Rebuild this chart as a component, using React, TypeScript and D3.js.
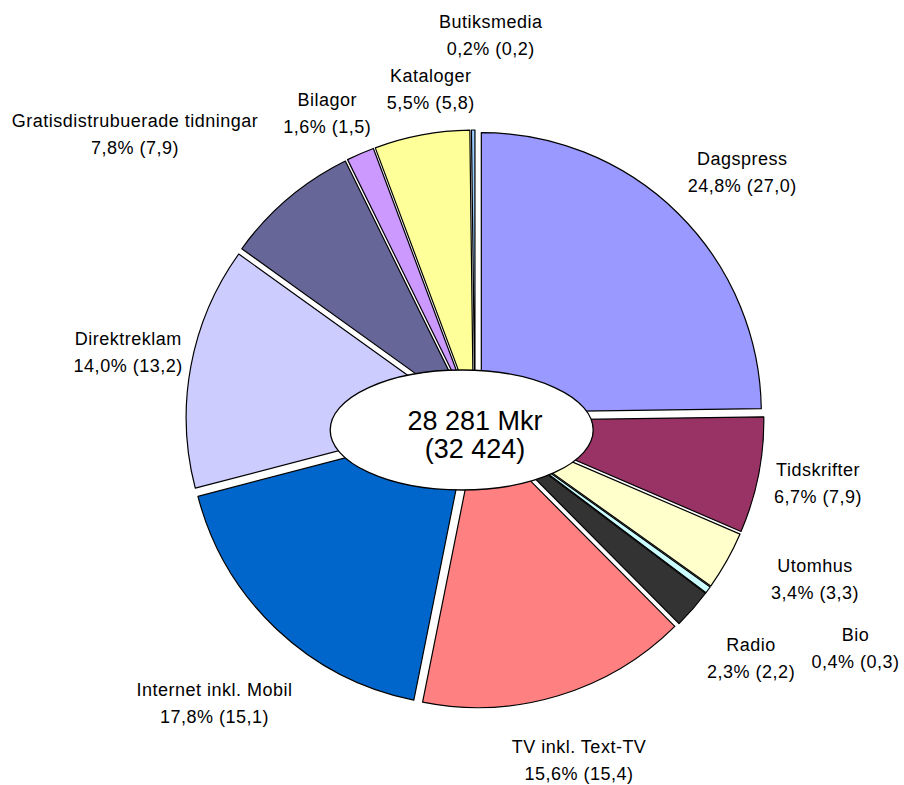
import React, { useEffect, useRef } from 'react'
import * as d3 from 'd3'

// chart data
const categories = [
  'Dagspress', 'Tidskrifter', 'Utomhus', 'Bio', 'Radio', 'TV inkl. Text-TV',
  'Internet inkl. Mobil', 'Direktreklam', 'Gratisdistrubuerade tidningar',
  'Bilagor', 'Kataloger', 'Butiksmedia',
]
const shares = [24.8, 6.7, 3.4, 0.4, 2.3, 15.6, 17.8, 14.0, 7.8, 1.6, 5.5, 0.2]
const shareLabels = ['24,8%', '6,7%', '3,4%', '0,4%', '2,3%', '15,6%', '17,8%', '14,0%', '7,8%', '1,6%', '5,5%', '0,2%']
const prevLabels = ['27,0', '7,9', '3,3', '0,3', '2,2', '15,4', '15,1', '13,2', '7,9', '1,5', '5,8', '0,2']
const totalText = ['28 281 Mkr', '(32 424)']

// styling / layout
const colors = ['#9999FF', '#993366', '#FFFFCC', '#CCFFFF', '#333333', '#FF8080',
  '#0066CC', '#CCCCFF', '#666699', '#CC99FF', '#FFFF99', '#99CCFF']
// label nudges from the default label ring, in px
const labelNudge = [[11, 13], [-15, -7], [22, -19], [86, 14], [1, 0], [-1, -8],
  [-10, 19], [12, 0], [-104, -6], [-3, 30], [23, 29], [18, -19]]

export default function App() {
  const ref = useRef<SVGSVGElement>(null)

  useEffect(() => {
    const width = 904
    const height = 785
    const cx = 475
    const cy = 419
    const radius = 280
    const explode = 9
    const labelR = 365

    const svg = d3.select(ref.current)
    svg.selectAll('*').remove()
    svg.attr('width', width).attr('height', height)

    const data = categories.map((c, i) => ({ name: c, value: shares[i], i }))

    const pie = d3.pie<any>().sort(null).value(d => d.value)
    const arcs = pie(data)
    const arc = d3.arc<any>().innerRadius(0).outerRadius(radius)

    const g = svg.append('g').attr('transform', `translate(${cx},${cy})`)

    g.selectAll('path.slice')
      .data(arcs)
      .join('path')
      .attr('class', 'slice')
      .attr('d', arc)
      .attr('transform', d => {
        const a = (d.startAngle + d.endAngle) / 2
        return `translate(${explode * Math.sin(a)},${-explode * Math.cos(a)})`
      })
      .attr('fill', d => colors[d.data.i])
      .attr('stroke', '#000')
      .attr('stroke-width', 1.2)
      .attr('stroke-linejoin', 'round')

    // labels
    const labels = g.selectAll('g.lbl')
      .data(arcs)
      .join('g')
      .attr('class', 'lbl')
      .attr('transform', d => {
        const a = (d.startAngle + d.endAngle) / 2
        const [nx, ny] = labelNudge[d.data.i]
        return `translate(${labelR * Math.sin(a) + nx},${-labelR * Math.cos(a) + ny})`
      })
      .style('font-family', '"Liberation Sans", Arial, sans-serif')
      .style('font-size', '18px')
      .style('letter-spacing', '0.5px')
      .attr('text-anchor', 'middle')
      .attr('fill', '#000')

    labels.append('text').attr('y', -7.5).text(d => d.data.name)
    labels.append('text').attr('y', 19.5)
      .text(d => `${shareLabels[d.data.i]} (${prevLabels[d.data.i]})`)

    // centre ellipse with total
    svg.append('ellipse')
      .attr('cx', 461.7).attr('cy', 430)
      .attr('rx', 131.5).attr('ry', 60)
      .attr('fill', '#fff')
      .attr('stroke', '#000')
      .attr('stroke-width', 1.3)

    svg.selectAll('text.total')
      .data(totalText)
      .join('text')
      .attr('class', 'total')
      .attr('x', cx)
      .attr('y', (d, i) => 430 + i * 28)
      .attr('text-anchor', 'middle')
      .style('font-family', '"Liberation Sans", Arial, sans-serif')
      .style('font-size', '27px')
      .text(d => d)
  }, [])

  return (
    <svg ref={ref} style={{ position: 'absolute', left: 0, top: 0, background: '#fff' }}></svg>
  )
}
